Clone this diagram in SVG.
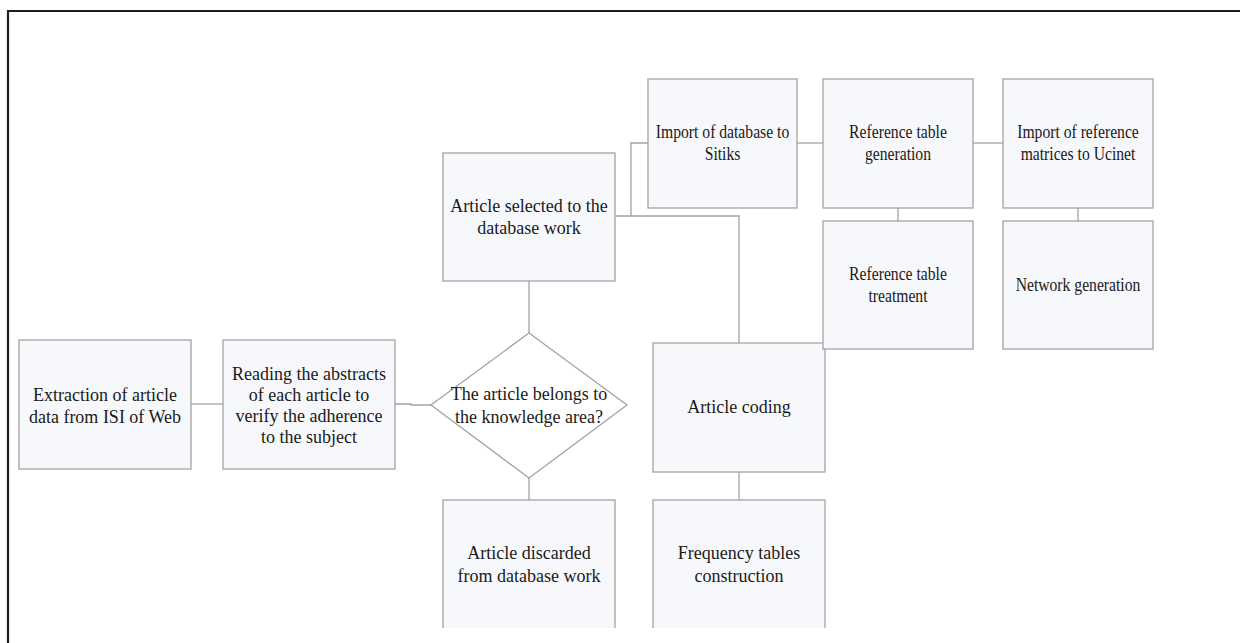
<svg xmlns="http://www.w3.org/2000/svg" width="1240" height="643" viewBox="0 0 1240 643">
<style>
.box{fill:#f7f8fc;stroke:#a3a3a3;stroke-width:1.3}
.c{fill:none;stroke:#a3a3a3;stroke-width:1.3}
text{font-family:"Liberation Serif","Times New Roman",serif;font-size:18px;fill:#1a1a1a;text-anchor:middle}
</style>
<defs><clipPath id="cut"><rect x="0" y="0" width="1240" height="628"/></clipPath></defs>
<rect width="1240" height="643" fill="#ffffff"/>
<path d="M8,643 V11 H1240" fill="none" stroke="#1e1e1e" stroke-width="2.2"/>
<g id="connectors">
<line class="c" x1="191" y1="404" x2="223" y2="404"/>
<path class="c" d="M395,404 H411 V405 H431"/>
<line class="c" x1="529" y1="281" x2="529" y2="333"/>
<line class="c" x1="529" y1="478" x2="529" y2="500"/>
<path class="c" d="M615,216 H739 V343"/>
<path class="c" d="M631,216 V143 H648"/>
<line class="c" x1="739" y1="472" x2="739" y2="500"/>
<line class="c" x1="797" y1="143" x2="823" y2="143"/>
<line class="c" x1="973" y1="143" x2="1003" y2="143"/>
<line class="c" x1="898" y1="208" x2="898" y2="221"/>
<line class="c" x1="1078" y1="208" x2="1078" y2="221"/>
</g>
<g id="n1"><rect class="box" x="19" y="340" width="172" height="129"/><text x="105" y="401">Extraction of article</text><text x="105" y="423">data from ISI of Web</text></g>
<g id="n2"><rect class="box" x="223" y="340" width="172" height="129"/><text x="309" y="380">Reading the abstracts</text><text x="309" y="401">of each article to</text><text x="309" y="422">verify the adherence</text><text x="309" y="443">to the subject</text></g>
<g id="n3"><polygon class="box" points="529,333 627,405 529,478 431,405" style="fill:#ffffff"/><text x="529" y="400">The article belongs to</text><text x="529" y="423">the knowledge area?</text></g>
<g id="n4"><rect class="box" x="443" y="153" width="172" height="128"/><text x="529" y="212">Article selected to the</text><text x="529" y="234">database work</text></g>
<g id="n5" clip-path="url(#cut)"><rect class="box" x="443" y="500" width="172" height="140"/><text x="529" y="559">Article discarded</text><text x="529" y="582">from database work</text></g>
<g id="n6"><rect class="box" x="653" y="343" width="172" height="129"/><text x="739" y="413">Article coding</text></g>
<g id="n7" clip-path="url(#cut)"><rect class="box" x="653" y="500" width="172" height="140"/><text x="739" y="559">Frequency tables</text><text x="739" y="582">construction</text></g>
<g id="n8"><rect class="box" x="648" y="79" width="149" height="129"/><g transform="translate(722.5,0) scale(0.87,1)"><text x="0" y="138">Import of database to</text><text x="0" y="160">Sitiks</text></g></g>
<g id="n9"><rect class="box" x="823" y="79" width="150" height="129"/><g transform="translate(898,0) scale(0.87,1)"><text x="0" y="138">Reference table</text><text x="0" y="160">generation</text></g></g>
<g id="n10"><rect class="box" x="1003" y="79" width="150" height="129"/><g transform="translate(1078,0) scale(0.87,1)"><text x="0" y="138">Import of reference</text><text x="0" y="160">matrices to Ucinet</text></g></g>
<g id="n11"><rect class="box" x="823" y="221" width="150" height="128"/><g transform="translate(898,0) scale(0.87,1)"><text x="0" y="280">Reference table</text><text x="0" y="302">treatment</text></g></g>
<g id="n12"><rect class="box" x="1003" y="221" width="150" height="128"/><g transform="translate(1078,0) scale(0.87,1)"><text x="0" y="291">Network generation</text></g></g>
</svg>
